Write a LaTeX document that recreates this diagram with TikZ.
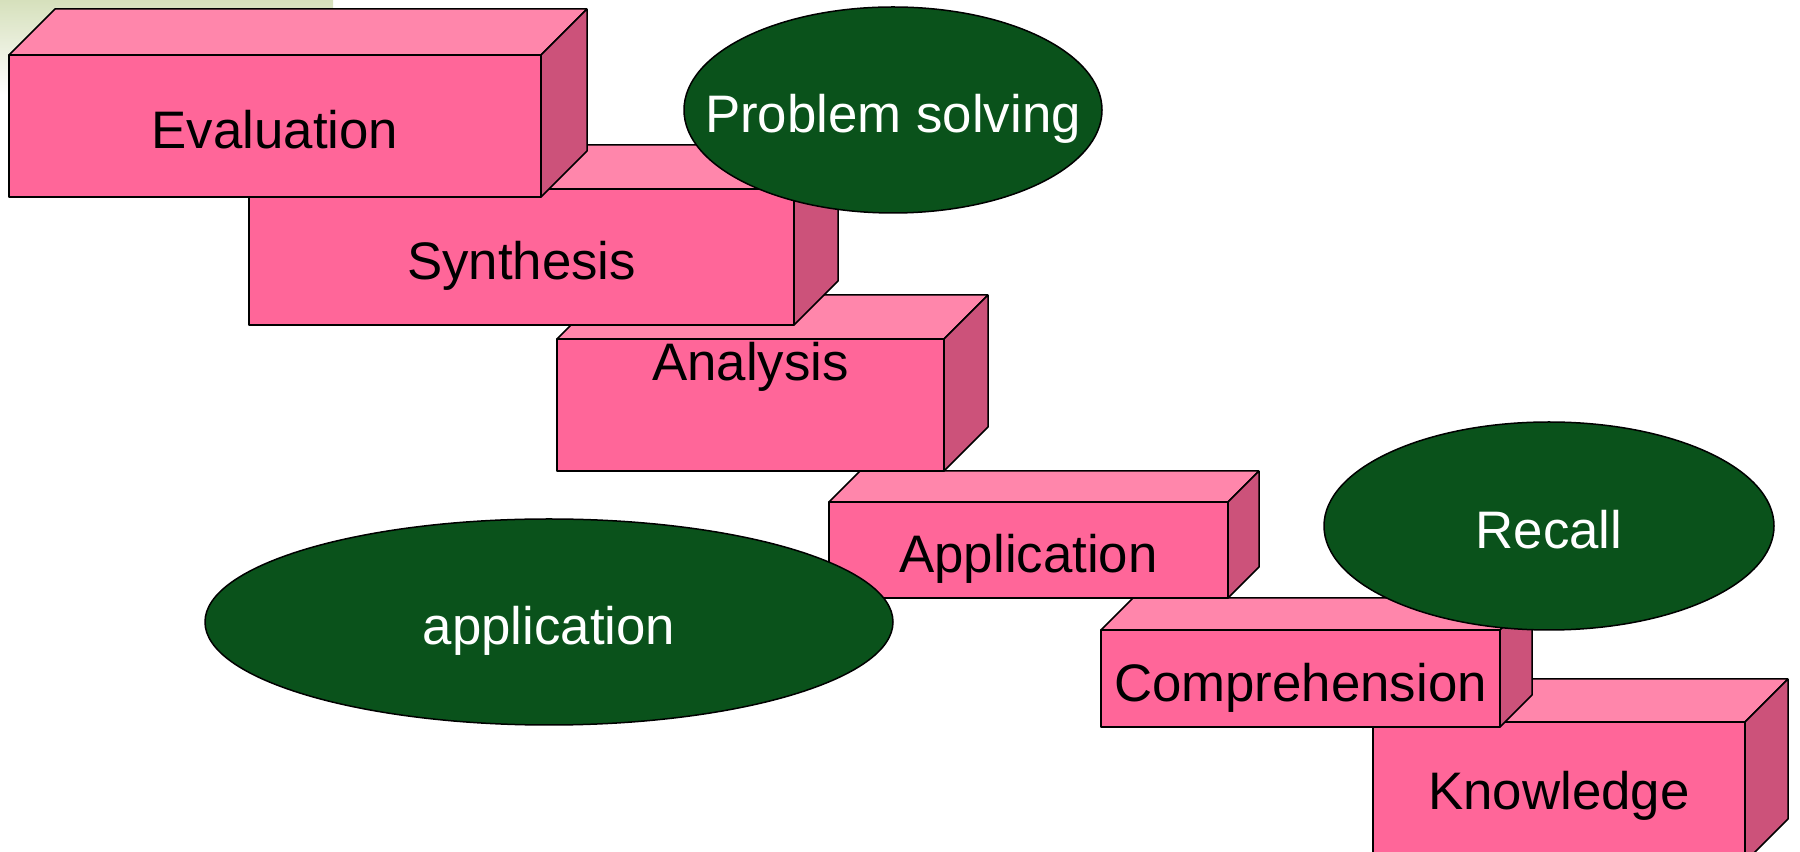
\documentclass[tikz,border=0pt]{standalone}
\usepackage{fontspec}
\setmainfont{Liberation Sans}
\usetikzlibrary{shapes.geometric,calc}
\definecolor{frontpink}{HTML}{FF6699}
\definecolor{toppink}{HTML}{FF86AB}
\definecolor{sidepink}{HTML}{CC527A}
\definecolor{bubblegreen}{HTML}{0A521B}
\definecolor{cornergreen}{HTML}{D6E0BC}
\begin{document}
\begin{tikzpicture}[x=1bp,y=1bp,line join=bevel,
  boxtext/.style={font=\fontsize{53}{60}\selectfont,text height=46bp,text depth=0pt},
  front/.style={draw,fill=frontpink,rectangle,inner sep=0pt,outer sep=0pt,line width=1.5bp,boxtext},
  topface/.style={draw,fill=toppink,line width=1.5bp},
  sideface/.style={draw,fill=sidepink,line width=1.5bp},
  bubble/.style={draw,ellipse,fill=bubblegreen,text=white,inner sep=0pt,line width=1.5bp,boxtext}]
\useasboundingbox (0,0) rectangle (1800,852);
\clip (0,0) rectangle (1800,852);
\shade [top color=cornergreen,bottom color=white] (0,757) rectangle (333,852);
%%
\node (node_know) at (1559,60) [front,minimum width=372bp,minimum height=140bp,text height=35bp] {Knowledge};
  \draw [topface] (node_know.north west) -- ++(43,43) -- ($(node_know.north east)+(43,43)$) -- (node_know.north east) -- cycle;
  \draw [sideface] (node_know.north east) -- ++(43,43) -- ($(node_know.south east)+(43,43)$) -- (node_know.south east) -- cycle;
%
\node (node_comp) at (1300.5,173.5) [front,minimum width=399bp,minimum height=97bp] {Comprehension};
  \draw [topface] (node_comp.north west) -- ++(32,32) -- ($(node_comp.north east)+(32,32)$) -- (node_comp.north east) -- cycle;
  \draw [sideface] (node_comp.north east) -- ++(32,32) -- ($(node_comp.south east)+(32,32)$) -- (node_comp.south east) -- cycle;
%
\node (node_appl) at (1028.5,302) [front,minimum width=399bp,minimum height=96bp] {Application};
  \draw [topface] (node_appl.north west) -- ++(31,31) -- ($(node_appl.north east)+(31,31)$) -- (node_appl.north east) -- cycle;
  \draw [sideface] (node_appl.north east) -- ++(31,31) -- ($(node_appl.south east)+(31,31)$) -- (node_appl.south east) -- cycle;
%
\node (node_anal) at (750.5,447) [front,minimum width=387bp,minimum height=132bp,
  label={[boxtext,anchor=north,inner sep=0pt,yshift=5bp]north:Analysis}] {};
  \draw [topface] (node_anal.north west) -- ++(44,44) -- ($(node_anal.north east)+(44,44)$) -- (node_anal.north east) -- cycle;
  \draw [sideface] (node_anal.north east) -- ++(44,44) -- ($(node_anal.south east)+(44,44)$) -- (node_anal.south east) -- cycle;
%
\node (node_synt) at (521.5,595) [front,minimum width=545bp,minimum height=136bp] {Synthesis};
  \draw [topface] (node_synt.north west) -- ++(44,44) -- ($(node_synt.north east)+(44,44)$) -- (node_synt.north east) -- cycle;
  \draw [sideface] (node_synt.north east) -- ++(44,44) -- ($(node_synt.south east)+(44,44)$) -- (node_synt.south east) -- cycle;
%
\node (node_eval) at (275,726) [front,minimum width=532bp,minimum height=142bp] {Evaluation};
  \draw [topface] (node_eval.north west) -- ++(46,46) -- ($(node_eval.north east)+(46,46)$) -- (node_eval.north east) -- cycle;
  \draw [sideface] (node_eval.north east) -- ++(46,46) -- ($(node_eval.south east)+(46,46)$) -- (node_eval.south east) -- cycle;
%%
\node (node_solve) at (893,742) [bubble,minimum width=418bp,minimum height=206bp] {\makebox[0pt]{Problem solving}};
  \node (node_recall) at (1549,326) [bubble,minimum width=450bp,minimum height=208bp] {\makebox[0pt]{Recall}};
  \node (node_use) at (549,230) [bubble,minimum width=688bp,minimum height=206bp] {\makebox[0pt]{application}};
%
\end{tikzpicture}
\end{document}
